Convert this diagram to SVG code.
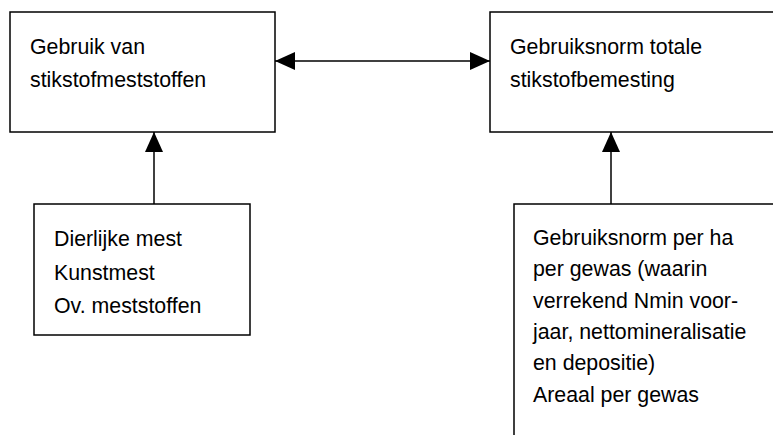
<svg xmlns="http://www.w3.org/2000/svg" width="773" height="435" viewBox="0 0 773 435">
<style>
.box{fill:#fff;stroke:#000;stroke-width:1.5}
.t{font-family:"Liberation Sans",Arial,sans-serif;font-size:21.33px;fill:#000}
.c{stroke:#000;stroke-width:1.5;fill:none}
</style>
<defs>
<marker id="ah" viewBox="0 0 20 18" refX="20" refY="9" markerWidth="20" markerHeight="18" markerUnits="userSpaceOnUse" orient="auto-start-reverse">
<path d="M0,0 L20,9 L0,18 Z" fill="#000"/>
</marker>
</defs>
<rect width="773" height="435" fill="#fff"/>
<g id="n1">
<rect class="box" x="10" y="12" width="265" height="120"/>
<text class="t" x="30" y="54">Gebruik van</text>
<text class="t" x="30" y="87">stikstofmeststoffen</text>
</g>
<g id="n2">
<rect class="box" x="490" y="12" width="300" height="120"/>
<text class="t" x="510" y="54">Gebruiksnorm totale</text>
<text class="t" x="510" y="87">stikstofbemesting</text>
</g>
<g id="n3">
<rect class="box" x="34" y="204" width="216" height="131"/>
<text class="t" x="54" y="246">Dierlijke mest</text>
<text class="t" x="54" y="279.5">Kunstmest</text>
<text class="t" x="54" y="313">Ov. meststoffen</text>
</g>
<g id="n4">
<rect class="box" x="514" y="204" width="300" height="260"/>
<text class="t" x="533" y="245">Gebruiksnorm per ha</text>
<text class="t" x="533" y="276.3">per gewas (waarin</text>
<text class="t" x="533" y="307.6">verrekend Nmin voor-</text>
<text class="t" x="533" y="339">jaar, nettomineralisatie</text>
<text class="t" x="533" y="370.3">en depositie)</text>
<text class="t" x="533" y="401.6">Areaal per gewas</text>
</g>
<g id="connectors">
<line class="c" x1="275" y1="61" x2="490" y2="61" marker-start="url(#ah)" marker-end="url(#ah)"/>
<line class="c" x1="154" y1="204" x2="154" y2="132" marker-end="url(#ah)"/>
<line class="c" x1="611" y1="204" x2="611" y2="132" marker-end="url(#ah)"/>
</g>
</svg>
